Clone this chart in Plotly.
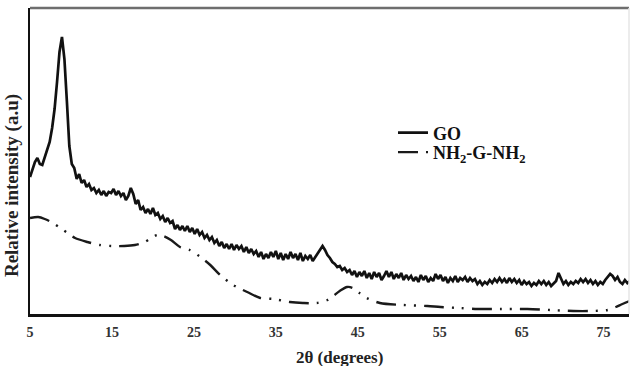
import plotly.graph_objects as go

# ---- data ----
go_theta = [
    5.0, 5.3, 5.6, 5.9, 6.2, 6.5, 6.8, 7.1, 7.4, 7.7,
    8.0, 8.3, 8.6, 8.9, 9.2, 9.5, 9.8, 10.1, 10.4, 10.7,
    11.0, 11.3, 11.6, 11.9, 12.2, 12.5, 12.8, 13.1, 13.4, 13.7,
    14.0, 14.3, 14.6, 14.9, 15.2, 15.5, 15.8, 16.1, 16.4, 16.7,
    17.0, 17.3, 17.6, 17.9, 18.2, 18.5, 18.8, 19.1, 19.4, 19.7,
    20.0, 20.3, 20.6, 20.9, 21.2, 21.5, 21.8, 22.1, 22.4, 22.7,
    23.0, 23.3, 23.6, 23.9, 24.2, 24.5, 24.8, 25.1, 25.4, 25.7,
    26.0, 26.3, 26.6, 26.9, 27.2, 27.5, 27.8, 28.1, 28.4, 28.7,
    29.0, 29.3, 29.6, 29.9, 30.2, 30.5, 30.8, 31.1, 31.4, 31.7,
    32.0, 32.3, 32.6, 32.9, 33.2, 33.5, 33.8, 34.1, 34.4, 34.7,
    35.0, 35.3, 35.6, 35.9, 36.2, 36.5, 36.8, 37.1, 37.4, 37.7,
    38.0, 38.3, 38.6, 38.9, 39.2, 39.5, 39.8, 40.1, 40.4, 40.7,
    41.0, 41.3, 41.6, 41.9, 42.2, 42.5, 42.8, 43.1, 43.4, 43.7,
    44.0, 44.3, 44.6, 44.9, 45.2, 45.5, 45.8, 46.1, 46.4, 46.7,
    47.0, 47.3, 47.6, 47.9, 48.2, 48.5, 48.8, 49.1, 49.4, 49.7,
    50.0, 50.3, 50.6, 50.9, 51.2, 51.5, 51.8, 52.1, 52.4, 52.7,
    53.0, 53.3, 53.6, 53.9, 54.2, 54.5, 54.8, 55.1, 55.4, 55.7,
    56.0, 56.3, 56.6, 56.9, 57.2, 57.5, 57.8, 58.1, 58.4, 58.7,
    59.0, 59.3, 59.6, 59.9, 60.2, 60.5, 60.8, 61.1, 61.4, 61.7,
    62.0, 62.3, 62.6, 62.9, 63.2, 63.5, 63.8, 64.1, 64.4, 64.7,
    65.0, 65.3, 65.6, 65.9, 66.2, 66.5, 66.8, 67.1, 67.4, 67.7,
    68.0, 68.3, 68.6, 68.9, 69.2, 69.5, 69.8, 70.1, 70.4, 70.7,
    71.0, 71.3, 71.6, 71.9, 72.2, 72.5, 72.8, 73.1, 73.4, 73.7,
    74.0, 74.3, 74.6, 74.9, 75.2, 75.5, 75.8, 76.1, 76.4, 76.7,
    77.0, 77.3, 77.6, 77.9, 78.2,
]
go_intensity = [
    137, 145, 152, 156, 150, 149, 157, 163, 172, 186,
    205, 232, 262, 277, 255, 213, 168, 150, 146, 135,
    140, 131, 134, 127, 130, 124, 126, 121, 124, 119,
    123, 118, 122, 121, 125, 119, 123, 118, 121, 114,
    118, 126, 120, 110, 114, 104, 107, 101, 105, 100,
    106, 99, 101, 95, 98, 92, 96, 91, 93, 85,
    89, 84, 88, 83, 88, 82, 86, 80, 85, 79,
    82, 76, 79, 74, 77, 71, 74, 68, 72, 66,
    70, 65, 70, 64, 69, 65, 68, 62, 67, 61,
    65, 60, 63, 57, 62, 55, 60, 56, 62, 57,
    63, 55, 61, 54, 60, 55, 62, 56, 60, 54,
    61, 53, 58, 55, 59, 53, 57, 60, 65, 68,
    64, 59, 56, 52, 50, 47, 48, 44, 46, 42,
    44, 39, 43, 37, 42, 38, 43, 36, 41, 35,
    42, 37, 41, 34, 38, 43, 37, 42, 35, 40,
    36, 41, 34, 39, 35, 38, 33, 37, 32, 39,
    34, 38, 32, 36, 33, 40, 35, 39, 33, 37,
    31, 36, 33, 38, 32, 36, 34, 37, 32, 36,
    33, 35, 30, 33, 29, 32, 30, 34, 31, 35,
    32, 36, 32, 35, 31, 36, 32, 35, 31, 34,
    29, 33, 30, 32, 28, 31, 29, 33, 30, 33,
    29, 32, 28, 31, 33, 41, 35, 30, 33, 29,
    32, 30, 33, 31, 35, 32, 35, 31, 34, 30,
    33, 29, 32, 30, 34, 37, 40, 38, 34, 37,
    32, 30, 34, 31, 33,
]

nh2_theta = [
    5.0, 6.0, 6.8, 7.8, 8.7, 9.6, 10.5, 12.0, 13.5, 15.0,
    16.5, 17.8, 19.0, 19.8, 20.5, 21.3, 22.2, 23.3, 24.5, 25.8,
    27.0, 28.2, 29.8, 31.5, 33.1, 34.7, 36.7, 38.3, 40.0, 41.3,
    42.0, 42.8, 43.7, 44.4, 45.2, 46.1, 47.7, 50.5, 53.5, 55.1,
    57.5, 59.6, 62.5, 65.7, 68.5, 71.3, 73.5, 75.5, 76.5, 77.3,
    78.2,
]
nh2_intensity = [
    96, 97, 95, 91, 86, 81, 76, 72, 69, 68,
    68, 69, 72, 76, 79, 78, 74, 67, 64, 57,
    49, 39, 29, 22, 16, 15, 12, 11, 11, 14,
    18, 23, 27, 26, 21, 16, 11, 9, 8, 7,
    6, 5, 5, 5, 4, 3, 3, 4, 7, 10,
    13,
]

x_ticks = [5, 15, 25, 35, 45, 55, 65, 75]
series_names = ["GO", "NH<sub>2</sub>-G-NH<sub>2</sub>"]
x_title = "2θ (degrees)"
y_title = "Relative intensity (a.u)"

SERIF = "Times New Roman, Liberation Serif, serif"
legend_font = dict(family=SERIF, size=18, color="#111111", weight="bold")

fig = go.Figure()
fig.add_trace(go.Scatter(
    x=go_theta, y=go_intensity, mode="lines", name=series_names[0],
    line=dict(color="#111111", width=2.7), legend="legend",
))
fig.add_trace(go.Scatter(
    x=nh2_theta, y=nh2_intensity, mode="lines", name=series_names[1],
    line=dict(color="#1a1a1a", width=2.4, shape="spline", smoothing=0.8,
              dash="20px,8px,2px,8px,2px,8px"),
    legend="legend2",
))

fig.update_layout(
    width=632, height=366,
    margin=dict(l=30, r=3, t=8, b=52, autoexpand=False),
    paper_bgcolor="white", plot_bgcolor="white",
    font=dict(family=SERIF, color="#222222", weight="bold"),
    showlegend=True,
    legend=dict(
        x=0.606, y=0.5915, xanchor="left", yanchor="middle",
        bgcolor="rgba(0,0,0,0)", borderwidth=0, font=legend_font,
    ),
    legend2=dict(
        x=0.606, y=0.528, xanchor="left", yanchor="middle",
        bgcolor="rgba(0,0,0,0)", borderwidth=0, font=legend_font,
    ),
    xaxis=dict(
        range=[5, 78.1], tickvals=x_ticks, ticktext=[str(v) for v in x_ticks],
        showgrid=False, zeroline=False, automargin=False,
        showline=True, linecolor="#111111", linewidth=3,
        ticks="outside", ticklen=3, tickcolor="rgba(0,0,0,0)",
        tickfont=dict(family=SERIF, size=14, color="#333333", weight="bold"),
    ),
    yaxis=dict(
        range=[0, 306], showticklabels=False, showgrid=False, zeroline=False,
        automargin=False,
        showline=True, linecolor="#111111", linewidth=2, ticks="",
    ),
    annotations=[
        dict(text=x_title, xref="paper", yref="paper", x=0.5175, y=0,
             xanchor="center", yanchor="middle", yshift=-43, showarrow=False,
             font=dict(family=SERIF, size=17, color="#222222", weight="bold")),
        dict(text=y_title, xref="paper", yref="paper", x=0, y=0.418,
             xanchor="center", yanchor="middle", xshift=-18, textangle=-90,
             showarrow=False,
             font=dict(family=SERIF, size=19, color="#222222", weight="bold")),
    ],
    shapes=[
        dict(type="line", xref="paper", yref="paper", x0=0, x1=1, y0=1, y1=1,
             line=dict(color="#6e6e6e", width=2.5)),
        dict(type="line", xref="paper", yref="paper", x0=1, x1=1, y0=0, y1=1,
             line=dict(color="#e6e6e6", width=1.5)),
    ],
)

fig.write_html(
    "out.html",
    config={"displayModeBar": False},
    post_script="document.body.style.margin='0';document.body.style.padding='0';",
)
